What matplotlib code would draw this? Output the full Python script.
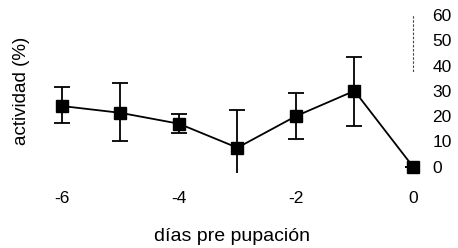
import matplotlib
matplotlib.use("Agg")
import matplotlib.pyplot as plt

days = [-6, -5, -4, -3, -2, -1, 0]
actividad = [24, 21.3, 17, 7.5, 20, 30, 0]
err_low = [6.6, 11.3, 3.6, 15, 9, 14, 0]
err_high = [7.6, 11.7, 4, 15, 9, 13.5, 0]
xticks = [-6, -4, -2, 0]
xtick_labels = ["-6", "-4", "-2", "0"]
yticks = [0, 10, 20, 30, 40, 50, 60]

plt.rcParams['font.family'] = ['Liberation Sans', 'DejaVu Sans']

fig = plt.figure(figsize=(4.58, 2.48), dpi=100)
ax = fig.add_axes([0.084, 0.3024, 0.9017 - 0.084, 0.9395 - 0.3024])

ax.errorbar(days, actividad, yerr=[err_low, err_high], fmt='none',
            ecolor='black', elinewidth=1.3, capsize=5.5, capthick=1.3,
            clip_on=True)
ax.plot(days, actividad, color='black', linewidth=1.3, marker='s',
        markersize=8.5, markerfacecolor='black', markeredgecolor='black',
        clip_on=False, zorder=3)

ax.set_xlim(-6.4, 0)
ax.set_ylim(-2.5, 60)

for s in ['left', 'top', 'bottom']:
    ax.spines[s].set_visible(False)
ax.spines['right'].set_bounds(38, 60)
ax.spines['right'].set_linestyle((0, (1.2, 2.5)))
ax.spines['right'].set_linewidth(0.8)
ax.spines['right'].set_color('#444444')

ax.yaxis.tick_right()
ax.set_yticks(yticks)
ax.set_yticklabels([str(v) for v in yticks])
ax.tick_params(axis='y', length=0, pad=14, labelsize=12.5)
ax.set_xticks(xticks)
ax.set_xticklabels(xtick_labels)
ax.tick_params(axis='x', length=0, pad=13, labelsize=12.5)

ax.set_ylabel("actividad (%)", fontsize=13.5)
ax.yaxis.set_label_position('left')
ax.yaxis.set_label_coords(-0.045, 0.52)
ax.yaxis.label.set_va('center')

ax.set_xlabel("días pre pupación", fontsize=14)
ax.xaxis.set_label_coords(0.5165, -0.399)
ax.xaxis.label.set_va('center')

fig.savefig("out.png", dpi=100)
